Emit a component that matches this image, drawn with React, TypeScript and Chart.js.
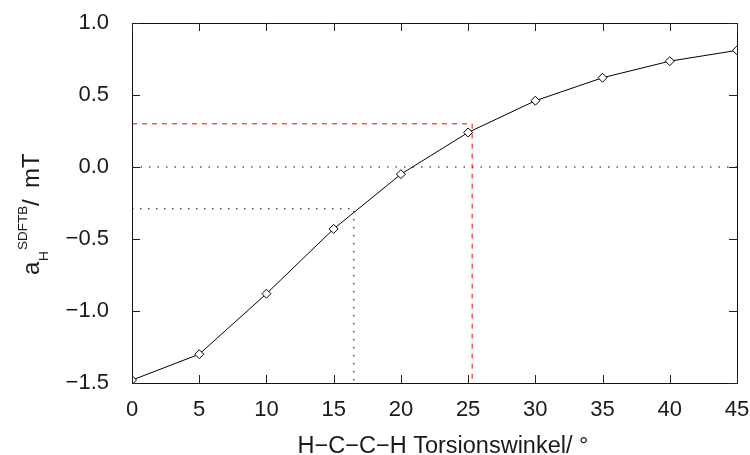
import React, { useEffect, useRef } from "react";
import { Chart, registerables } from "chart.js";

Chart.register(...registerables);

// Torsion angle (degrees) and computed hyperfine coupling (mT)
const angles = [0, 5, 10, 15, 20, 25, 30, 35, 40, 45];
const couplings = [-1.48, -1.3, -0.88, -0.43, -0.05, 0.24, 0.46, 0.62, 0.735, 0.81];

// Guide lines: zero line, reading at -0.29 mT and at +0.3 mT
const zeroLineX = [0, 45];
const zeroLineY = [0, 0];
const lowReadX = [0, 16.5, 16.5];
const lowReadY = [-0.29, -0.29, -1.5];
const highReadX = [0, 25.3, 25.3];
const highReadY = [0.3, 0.3, -1.5];

const xTicks = { min: 0, max: 45, step: 5 };
const yTicks = { min: -1.5, max: 1.0, step: 0.5 };

const FONT = "'Liberation Sans', Arial, Helvetica, sans-serif";

const pts = (xs: number[], ys: number[]) => xs.map((x, i) => ({ x, y: ys[i] }));

const framePlugin = {
  id: "frameAndTitles",
  afterDraw(chart: any) {
    const { ctx, chartArea: a, scales } = chart;
    const xs = scales.x;
    const ys = scales.y;
    ctx.save();
    // frame
    ctx.strokeStyle = "#111";
    ctx.lineWidth = 1;
    ctx.setLineDash([]);
    ctx.strokeRect(Math.round(a.left) + 0.5, Math.round(a.top) + 0.5, Math.round(a.right - a.left), Math.round(a.bottom - a.top));
    // inward tick marks on all four sides
    const tl = 8;
    ctx.strokeStyle = "#222";
    ctx.beginPath();
    xs.ticks.forEach((t: any) => {
      const px = Math.round(xs.getPixelForValue(t.value)) + 0.5;
      ctx.moveTo(px, a.bottom);
      ctx.lineTo(px, a.bottom - tl);
      ctx.moveTo(px, a.top);
      ctx.lineTo(px, a.top + tl);
    });
    ys.ticks.forEach((t: any) => {
      const py = Math.round(ys.getPixelForValue(t.value)) + 0.5;
      ctx.moveTo(a.left, py);
      ctx.lineTo(a.left + tl, py);
      ctx.moveTo(a.right, py);
      ctx.lineTo(a.right - tl, py);
    });
    ctx.stroke();

    ctx.fillStyle = "#1a1a1a";
    // x axis title
    ctx.font = `23.5px ${FONT}`;
    ctx.textAlign = "center";
    ctx.textBaseline = "alphabetic";
    ctx.fillText("H\u2212C\u2212C\u2212H Torsionswinkel/ \u00b0", 443, 453);

    // y axis title with subscript and superscript, rotated
    ctx.translate(39, 275);
    ctx.rotate(-Math.PI / 2);
    ctx.textAlign = "left";
    ctx.font = `24px ${FONT}`;
    ctx.fillText("a", 0, 0);
    ctx.font = `13.5px ${FONT}`;
    ctx.fillText("H", 14, 9);
    ctx.fillText("SDFTB", 25, -12);
    ctx.font = `24px ${FONT}`;
    ctx.fillText("/", 69, 0);
    ctx.fillText("mT", 87, 0);
    ctx.restore();
  },
};

export default function App() {
  const ref = useRef<HTMLCanvasElement>(null);

  useEffect(() => {
    if (!ref.current) return;
    const chart = new Chart(ref.current, {
      type: "scatter",
      data: {
        datasets: [
          {
            data: pts(angles, couplings),
            showLine: true,
            borderColor: "#000",
            borderWidth: 1,
            pointStyle: "rectRot",
            pointRadius: 4.5,
            pointBorderWidth: 1,
            pointBorderColor: "#000",
            pointBackgroundColor: "#fff",
          },
          {
            data: pts(highReadX, highReadY),
            showLine: true,
            borderColor: "#ff0000",
            borderWidth: 1,
            borderDash: [5, 5],
            pointRadius: 0,
          },
          {
            data: pts(lowReadX, lowReadY),
            showLine: true,
            borderColor: "#000",
            borderWidth: 1,
            borderDash: [1.5, 6.5],
            pointRadius: 0,
          },
          {
            data: pts(zeroLineX, zeroLineY),
            showLine: true,
            borderColor: "#000",
            borderWidth: 1,
            borderDash: [1.5, 7],
            pointRadius: 0,
          },
        ],
      },
      options: {
        animation: false,
        responsive: false,
        events: [],
        layout: { padding: { top: 23, right: 13, left: 0, bottom: 0 } },
        plugins: { legend: { display: false }, tooltip: { enabled: false } },
        scales: {
          x: {
            type: "linear",
            min: xTicks.min,
            max: xTicks.max,
            grid: { display: false },
            border: { display: false },
            ticks: {
              stepSize: xTicks.step,
              padding: 6,
              color: "#1a1a1a",
              font: { family: FONT, size: 22 },
              maxRotation: 0,
            },
            afterFit: (s: any) => {
              s.height = 72;
              s.paddingLeft = 0;
              s.paddingRight = 0;
            },
          },
          y: {
            type: "linear",
            min: yTicks.min,
            max: yTicks.max,
            grid: { display: false },
            border: { display: false },
            ticks: {
              stepSize: yTicks.step,
              padding: 15,
              color: "#1a1a1a",
              font: { family: FONT, size: 22 },
              callback: (v: any) => Number(v).toFixed(1).replace("-", "\u2212"),
            },
            afterFit: (s: any) => {
              s.width = 132;
              s.paddingTop = 0;
              s.paddingBottom = 0;
            },
          },
        },
      },
      plugins: [framePlugin],
    });
    return () => chart.destroy();
  }, []);

  return (
    <div style={{ position: "absolute", left: 0, top: 0, width: 750, height: 455, background: "#fff" }}>
      <canvas ref={ref} width={750} height={455} style={{ width: 750, height: 455, display: "block" }} />
    </div>
  );
}
